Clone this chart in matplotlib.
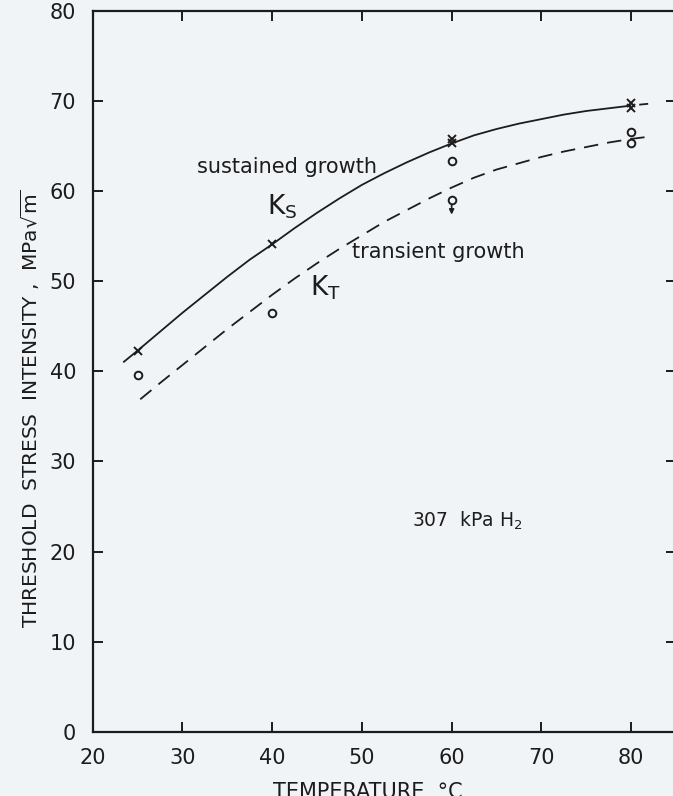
import matplotlib
matplotlib.use("Agg")
import matplotlib.pyplot as plt

# ---------------- data ----------------
ks_pts_t = [25, 40, 60, 60, 80, 80]
ks_pts_v = [42.3, 54.1, 65.4, 65.8, 69.8, 69.2]

kt_pts_t = [25, 40, 60, 80, 80]
kt_pts_v = [39.6, 46.5, 63.4, 66.6, 65.4]

kt_upper_t = [60]
kt_upper_v = [59.0]

ks_curve_t = [23.4, 25, 27.5, 30, 32.5, 35, 37.5, 40, 42.5, 45, 47.5, 50,
              52.5, 55, 57.5, 60, 62.5, 65, 67.5, 70, 72.5, 75, 77.5, 80]
ks_curve_v = [41.0, 42.3, 44.4, 46.5, 48.5, 50.5, 52.4, 54.1, 55.9, 57.6,
              59.2, 60.7, 62.0, 63.2, 64.3, 65.3, 66.2, 66.9, 67.5, 68.0,
              68.5, 68.9, 69.2, 69.5]
ks_ext_t = [80.9, 81.9]
ks_ext_v = [69.6, 69.7]

kt_curve_t = [25.3, 27.5, 30, 32.5, 35, 37.5, 40, 42.5, 45, 47.5, 50, 52.5,
              55, 57.5, 60, 62.5, 65, 67.5, 70, 72.5, 75, 77.5, 80, 81.6]
kt_curve_v = [36.9, 38.7, 40.7, 42.7, 44.7, 46.6, 48.5, 50.3, 52.0, 53.6,
              55.1, 56.6, 57.9, 59.2, 60.4, 61.5, 62.4, 63.1, 63.8, 64.4,
              64.9, 65.4, 65.8, 66.0]

x_ticks = [20, 30, 40, 50, 60, 70, 80]
y_ticks = [0, 10, 20, 30, 40, 50, 60, 70, 80]

INK = "#1c1c1c"
BG = "#f1f4f7"

plt.rcParams['font.family'] = ['DejaVu Sans']
plt.rcParams['mathtext.fontset'] = 'dejavusans'

fig = plt.figure(figsize=(6.73, 7.96), dpi=100, facecolor=BG)
ax = fig.add_axes([92.7 / 673, 64.3 / 796, 583.3 / 673, 720.7 / 796])
ax.set_facecolor(BG)
ax.set_xlim(20, 85)
ax.set_ylim(0, 80)

for s in ax.spines.values():
    s.set_color(INK)
    s.set_linewidth(1.6)

ax.set_xticks(x_ticks)
ax.set_yticks(y_ticks)
ax.tick_params(direction='in', length=7, width=1.4, color=INK,
               top=True, right=True, labelsize=15, pad=12, labelcolor=INK)

# curves
ax.plot(ks_curve_t, ks_curve_v, color=INK, lw=1.3, solid_capstyle='butt',
        solid_joinstyle='round')
ax.plot(ks_ext_t, ks_ext_v, color=INK, lw=1.3, solid_capstyle='butt')
ax.plot(kt_curve_t, kt_curve_v, color=INK, lw=1.3, linestyle=(0, (8, 5)),
        dash_capstyle='butt', dash_joinstyle='round')

# points
ax.plot(ks_pts_t, ks_pts_v, linestyle='none', marker='x', markersize=6,
        mew=1.4, color=INK)
ax.plot(kt_pts_t, kt_pts_v, linestyle='none', marker='o', markersize=5.5,
        mew=1.4, mfc=BG, mec=INK)
ax.plot(kt_upper_t, kt_upper_v, linestyle='none', marker='o', markersize=5.5,
        mew=1.4, mfc=BG, mec=INK)
for t, v in zip(kt_upper_t, kt_upper_v):
    ax.annotate('', xy=(t, v - 1.6), xytext=(t, v - 0.5),
                arrowprops=dict(arrowstyle='-|>', lw=1.2, color=INK,
                                mutation_scale=7, shrinkA=0, shrinkB=0))

# annotations
ax.text(31.63, 61.97, 'sustained growth', fontsize=15, color=INK,
        ha='left', va='baseline')
ax.text(48.92, 52.63, 'transient growth', fontsize=15, color=INK,
        ha='left', va='baseline')
ax.text(39.4, 57.4, r'K$_\mathregular{S}$', fontsize=19, color=INK,
        ha='left', va='baseline')
ax.text(44.2, 48.4, r'K$_\mathregular{T}$', fontsize=19, color=INK,
        ha='left', va='baseline')
ax.text(55.6, 22.75, r'307  kPa H$_\mathregular{2}$', fontsize=13.5, color=INK,
        ha='left', va='baseline')

# axis labels
ax.text(-0.1075, 0.4485, r'THRESHOLD  STRESS  INTENSITY ,  MPa$\sqrt{\mathregular{m}}$',
        transform=ax.transAxes, rotation=90, ha='center', va='center',
        fontsize=14.5, color=INK)
fig.text(368 / 673, -1.5 / 796, 'TEMPERATURE  °C', ha='center', va='baseline',
         fontsize=15, color=INK)

fig.savefig('out.png', dpi=100, facecolor=BG)
